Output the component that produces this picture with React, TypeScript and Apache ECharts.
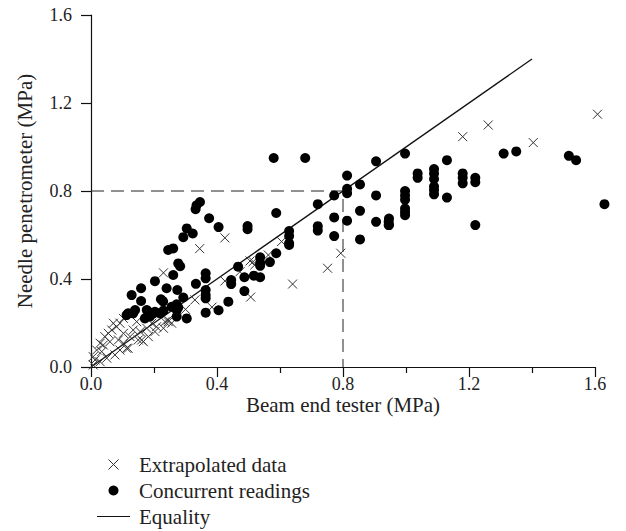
import React, { useEffect, useRef } from "react";
import * as echarts from "echarts";

const xTicks = [0, 0.4, 0.8, 1.2, 1.6];
const equalityLine = [[0, 0], [1.4, 1.4]];
const guideLine = [[0, 0.8], [0.8, 0.8], [0.8, 0]];

const concurrentReadings = [
  [0.58, 0.95], [0.68, 0.95], [0.905, 0.935], [0.813, 0.87], [0.813, 0.81], [0.813, 0.79],
  [0.854, 0.83], [0.772, 0.78], [0.72, 0.74], [0.905, 0.78], [0.854, 0.71], [0.772, 0.68],
  [0.813, 0.665], [0.905, 0.66], [0.945, 0.66], [0.945, 0.645], [0.72, 0.64], [0.72, 0.62],
  [0.772, 0.595], [0.854, 0.58], [0.588, 0.7],
  [0.997, 0.97], [1.13, 0.94], [1.31, 0.97], [1.35, 0.98], [1.517, 0.96], [1.54, 0.94], [1.63, 0.74],
  [1.037, 0.88], [1.037, 0.86], [1.089, 0.9], [1.089, 0.88], [1.089, 0.855], [1.089, 0.82],
  [1.089, 0.805], [1.089, 0.785], [1.13, 0.77], [1.18, 0.88], [1.18, 0.86], [1.18, 0.835],
  [1.22, 0.86], [1.22, 0.84], [1.22, 0.645],
  [0.997, 0.8], [0.997, 0.78], [0.997, 0.76], [0.997, 0.72], [0.997, 0.705], [0.997, 0.69],
  [0.946, 0.675], [0.946, 0.645],
  [0.346, 0.75], [0.335, 0.735], [0.332, 0.717], [0.375, 0.676], [0.405, 0.636], [0.497, 0.641],
  [0.497, 0.626], [0.629, 0.618], [0.629, 0.595], [0.629, 0.562], [0.629, 0.555], [0.588, 0.517],
  [0.568, 0.477], [0.537, 0.499], [0.537, 0.474], [0.537, 0.46], [0.537, 0.408], [0.517, 0.415],
  [0.487, 0.408], [0.467, 0.456], [0.445, 0.395], [0.445, 0.377], [0.487, 0.345], [0.436, 0.297],
  [0.405, 0.258], [0.364, 0.247], [0.364, 0.426], [0.364, 0.403], [0.364, 0.35], [0.364, 0.327],
  [0.364, 0.312],
  [0.304, 0.63], [0.293, 0.59], [0.323, 0.607], [0.245, 0.532], [0.261, 0.539], [0.277, 0.471],
  [0.283, 0.458], [0.261, 0.418], [0.203, 0.39], [0.129, 0.327], [0.159, 0.358], [0.159, 0.3],
  [0.24, 0.358], [0.222, 0.308], [0.229, 0.298], [0.274, 0.35], [0.293, 0.316], [0.272, 0.285],
  [0.277, 0.27], [0.272, 0.259], [0.333, 0.378], [0.272, 0.229], [0.304, 0.221], [0.177, 0.259],
  [0.187, 0.229], [0.171, 0.221], [0.203, 0.251], [0.14, 0.259], [0.134, 0.244], [0.113, 0.236],
  [0.118, 0.244], [0.182, 0.251], [0.198, 0.244], [0.219, 0.244], [0.23, 0.256], [0.256, 0.274],
];

const extrapolatedData = [
  [0.425, 0.587], [0.345, 0.538], [0.793, 0.517], [0.751, 0.449], [0.64, 0.377], [0.507, 0.318],
  [0.384, 0.272], [0.515, 0.479], [0.563, 0.509], [0.605, 0.57], [1.18, 1.047], [1.261, 1.1],
  [1.404, 1.02], [1.608, 1.149], [0.23, 0.428], [0.425, 0.391], [0.473, 0.433], [0.33, 0.305],
  [0.245, 0.206], [0.161, 0.123], [0.113, 0.085], [0.505, 0.482], [0.52, 0.464], [0.27, 0.24],
  [0.3, 0.262],
  [0.092, 0.199], [0.066, 0.168], [0.044, 0.138], [0.029, 0.108], [0.018, 0.077], [0.007, 0.047],
  [0.071, 0.199], [0.081, 0.183], [0.103, 0.153], [0.124, 0.138], [0.15, 0.123], [0.166, 0.115],
  [0.177, 0.176], [0.193, 0.199], [0.208, 0.183], [0.235, 0.206], [0.245, 0.214], [0.118, 0.085],
  [0.092, 0.077], [0.076, 0.055], [0.05, 0.04], [0.029, 0.024], [0.039, 0.1], [0.06, 0.115],
  [0.055, 0.153], [0.007, 0.009], [0.013, 0.032], [0.034, 0.07], [0.087, 0.123], [0.103, 0.108],
  [0.134, 0.168], [0.156, 0.161], [0.182, 0.138], [0.203, 0.161], [0.23, 0.176], [0.256, 0.199],
  [0.145, 0.206], [0.103, 0.221],
];

const FONT = "'Liberation Serif', 'DejaVu Serif', serif";
const CROSS = "path://M0,0L10,10M10,0L0,10";
const LINE_ICON = "path://M0,0L100,0L100,3L0,3Z";

export default function App() {
  const ref = useRef<HTMLDivElement>(null);
  useEffect(() => {
    const chart = echarts.init(ref.current!, null, { renderer: "svg" });
    const axisCommon = {
      type: "value" as const,
      min: 0,
      max: 1.6,
      interval: 0.4,
      axisLine: { show: true, onZero: false, lineStyle: { color: "#111", width: 1.2 } },
      axisTick: { show: true, inside: false, length: 10, lineStyle: { color: "#111", width: 1.2 } },
      splitLine: { show: false },
      axisLabel: {
        color: "#222",
        fontFamily: FONT,
        fontSize: 18,
        formatter: (v: number) => v.toFixed(1),
      },
      nameLocation: "middle" as const,
      nameMoveOverlap: false,
      nameTextStyle: { color: "#222", fontFamily: FONT, fontSize: 21 },
    };
    chart.setOption({
      animation: false,
      backgroundColor: "#fff",
      grid: { left: 91, right: 31, top: 15, bottom: 164 },
      xAxis: {
        ...axisCommon,
        name: "Beam end tester (MPa)",
        nameGap: 27,
        minorTick: { show: true, splitNumber: 2, length: 6, lineStyle: { color: "#111", width: 1.2 } },
        axisLabel: { ...axisCommon.axisLabel, margin: 8, customValues: xTicks },
      },
      yAxis: {
        ...axisCommon,
        name: "Needle penetrometer (MPa)",
        nameGap: 56,
        axisLabel: { ...axisCommon.axisLabel, margin: 19 },
      },
      legend: {
        orient: "vertical",
        left: 92,
        top: 449,
        height: 82,
        itemWidth: 33,
        itemHeight: 10,
        itemGap: 5,
        textStyle: { color: "#222", fontFamily: FONT, fontSize: 21, lineHeight: 21, padding: [0, 0, 0, 4] },
        data: [
          { name: "Extrapolated data", icon: CROSS, itemStyle: { color: "transparent", borderColor: "#333", borderWidth: 1 } },
          { name: "Concurrent readings", icon: "circle", itemStyle: { color: "#000", opacity: 1 } },
          { name: "Equality", icon: LINE_ICON, itemStyle: { color: "#111", borderWidth: 0 } },
        ],
      },
      series: [
        {
          name: "Guide",
          type: "line",
          data: guideLine,
          symbol: "none",
          silent: true,
          lineStyle: { color: "#222", width: 1, type: [13, 7] },
          z: 1,
        },
        {
          name: "Equality",
          type: "line",
          data: equalityLine,
          symbol: "none",
          itemStyle: { color: "#111" },
          lineStyle: { color: "#111", width: 1.3 },
          z: 2,
        },
        {
          name: "Extrapolated data",
          type: "scatter",
          data: extrapolatedData,
          symbol: CROSS,
          symbolSize: 9,
          clip: false,
          itemStyle: { color: "transparent", borderColor: "#333", borderWidth: 1, opacity: 1 },
          z: 3,
        },
        {
          name: "Concurrent readings",
          type: "scatter",
          data: concurrentReadings,
          symbol: "circle",
          symbolSize: 10,
          clip: false,
          itemStyle: { color: "#000", opacity: 1 },
          z: 4,
        },
      ],
    });
    return () => chart.dispose();
  }, []);
  return (
    <div
      ref={ref}
      style={{ position: "absolute", left: 0, top: 0, width: 626, height: 531 }}
    />
  );
}
